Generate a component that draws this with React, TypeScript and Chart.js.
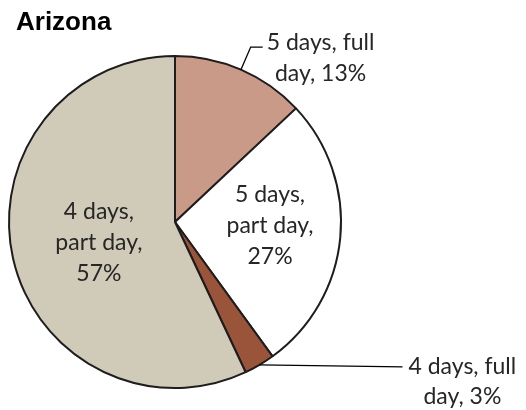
import React, { useEffect, useRef } from "react";
import { Chart, registerables } from "chart.js";
Chart.register(...registerables);

const title = "Arizona";
const categories = ["5 days, full day", "5 days, part day", "4 days, full day", "4 days, part day"];
const values = [13, 27, 3, 57];
const colors = ["#C99A87", "#FFFFFF", "#9A543A", "#D0CAB8"];
const labelLines = [
  ["5 days, full", "day,"],
  ["5 days,", "part day,"],
  ["4 days, full", "day,"],
  ["4 days,", "part day,"],
];

const LABEL_FONT = "23px Lato, 'Open Sans', sans-serif";
const TEXT_COLOR = "#262626";
const LINE_H = 31;

const labelPlugin = {
  id: "pieLabels",
  afterDraw(chart: any) {
    const ctx = chart.ctx as CanvasRenderingContext2D;
    const meta = chart.getDatasetMeta(0);
    ctx.save();
    // title
    ctx.font = "bold 26px 'Liberation Sans', Arial, sans-serif";
    ctx.fillStyle = "#000";
    ctx.textAlign = "left";
    ctx.textBaseline = "middle";
    ctx.fillText(title, 16, 23);

    ctx.font = LABEL_FONT;
    ctx.fillStyle = TEXT_COLOR;
    meta.data.forEach((arc: any, i: number) => {
      const p = arc.getProps(["x", "y", "startAngle", "endAngle", "outerRadius"], true);
      const mid = (p.startAngle + p.endAngle) / 2;
      const src = labelLines[i];
      const cos = Math.cos(mid), sin = Math.sin(mid);
      const r = p.outerRadius;
      if (i === 1 || i === 3) {
        const lines = [...src, values[i] + "%"];
        const f = i === 1 ? 0.575 : 0.47;
        const cx = p.x + cos * r * f;
        const cy = p.y + sin * r * f + (i === 1 ? -5 : 4);
        ctx.textAlign = "center";
        lines.forEach((t, k) => {
          ctx.fillText(t, cx, cy + (k - (lines.length - 1) / 2) * LINE_H);
        });
      } else {
        const lines = [src[0], src[1] + " " + values[i] + "%"];
        const ex = p.x + cos * r, ey = p.y + sin * r;
        ctx.strokeStyle = "#000";
        ctx.lineWidth = 1.3;
        if (i === 0) {
          const bx = p.x + cos * r * 1.148, by = p.y + sin * r * 1.148;
          ctx.beginPath();
          ctx.moveTo(ex, ey);
          ctx.lineTo(bx, by);
          ctx.lineTo(bx + 12, by);
          ctx.stroke();
          const w = ctx.measureText(lines[0]).width;
          const cx = bx + 16 + w / 2;
          ctx.textAlign = "center";
          ctx.fillText(lines[0], cx, by - 5);
          ctx.fillText(lines[1], cx, by - 5 + LINE_H);
        } else {
          const tx = ex + 143, ty = ey + 2;
          ctx.beginPath();
          ctx.moveTo(ex, ey);
          ctx.lineTo(tx, ty);
          ctx.stroke();
          const w = ctx.measureText(lines[0]).width;
          const cx = tx + 6 + w / 2;
          ctx.textAlign = "center";
          ctx.fillText(lines[0], cx, ty);
          ctx.fillText(lines[1], cx, ty + 30);
        }
      }
    });
    ctx.restore();
  },
};

export default function App() {
  const ref = useRef<HTMLCanvasElement | null>(null);
  useEffect(() => {
    if (!ref.current) return;
    const chart = new Chart(ref.current, {
      type: "pie",
      data: {
        labels: categories,
        datasets: [
          {
            data: values,
            backgroundColor: colors,
            borderColor: "#1e1c1c",
            borderWidth: 2,
          },
        ],
      },
      options: {
        animation: false,
        responsive: false,
        maintainAspectRatio: false,
        layout: { padding: { left: 8, right: 184, top: 55, bottom: 21 } },
        plugins: { legend: { display: false }, tooltip: { enabled: false }, title: { display: false } },
      },
      plugins: [labelPlugin],
    });
    return () => chart.destroy();
  }, []);
  return (
    <div style={{ position: "fixed", left: 0, top: 0, width: 526, height: 410, background: "#fff" }}>
      <canvas ref={ref} width={526} height={410} style={{ display: "block" }} />
    </div>
  );
}
